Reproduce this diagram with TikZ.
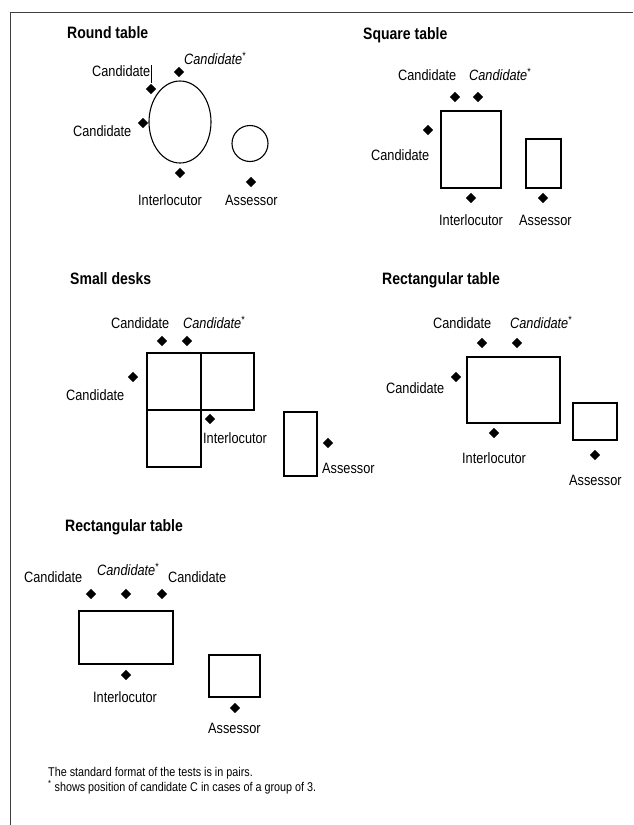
\documentclass[tikz,border=0pt]{standalone}
\usepackage{fontspec}
\setmainfont{Liberation Sans}[FakeStretch=0.85]
\usetikzlibrary{shapes.geometric}
\tikzset{
  seat/.style={diamond, fill=black, inner sep=0pt, minimum size=10.5pt},
  who/.style={anchor=base west, inner sep=0pt, font=\fontsize{15}{18}\selectfont},
  heading/.style={anchor=base west, inner sep=0pt, font=\fontsize{16.5}{19}\selectfont\bfseries},
  note/.style={anchor=base west, inner sep=0pt, align=left, font=\fontsize{12.7}{12.5}\selectfont},
  table/.style={line width=1.1pt},
}
\newcommand{\third}{\textit{Candidate}\textsuperscript{*}}
\begin{document}
\begin{tikzpicture}[x=1pt, y=-1pt]
    \useasboundingbox (0, 0) rectangle (633, 825);
    \draw[line width=0.9pt, black!75] (10, 825) -- (10, 12) -- (633, 12);

    \node[heading] (roundT) at (67, 38) {Round table};
    \draw[table] (180, 122) ellipse [x radius=31, y radius=41];
    \draw[table] (250, 143.5) circle [radius=18];
    \node[seat] (roundA) at (151, 89) {};
    \node[seat] (roundB) at (179, 72) {};
    \node[seat] (roundC) at (143, 123) {};
    \node[seat] (roundI) at (180, 173) {};
    \node[seat] (roundS) at (251, 182) {};
    \node[who] (roundAl) at (92, 76.5) {Candidate};
    \draw[line width=0.8pt] (151, 65) -- (151, 83);
    \node[who] (roundBl) at (184, 64.5) {\third};
    \node[who] (roundCl) at (73, 136.5) {Candidate};
    \node[who] (roundIl) at (138, 205.5) {Interlocutor};
    \node[who] (roundSl) at (225, 205.5) {Assessor};

    \node[heading] (squareT) at (363, 39) {Square table};
    \draw[table] (441, 111) rectangle (501, 188);
    \draw[table] (526, 139) rectangle (561, 188);
    \node[seat] (squareA) at (455, 97) {};
    \node[seat] (squareB) at (478, 97) {};
    \node[seat] (squareC) at (428, 130) {};
    \node[seat] (squareI) at (471, 198) {};
    \node[seat] (squareS) at (543, 198) {};
    \node[who] (squareAl) at (398, 80.5) {Candidate};
    \node[who] (squareBl) at (469, 80.5) {\third};
    \node[who] (squareCl) at (371, 160.5) {Candidate};
    \node[who] (squareIl) at (439, 225.5) {Interlocutor};
    \node[who] (squareSl) at (519, 225.5) {Assessor};

    \node[heading] (desksT) at (70, 284) {Small desks};
    \draw[table] (147, 353) rectangle (201, 410);
    \draw[table] (201, 353) rectangle (254, 410);
    \draw[table] (147, 410) rectangle (201, 467);
    \draw[table] (284, 412) rectangle (317, 476);
    \node[seat] (desksA) at (162, 341) {};
    \node[seat] (desksB) at (187, 341) {};
    \node[seat] (desksC) at (133, 377) {};
    \node[seat] (desksI) at (210, 419) {};
    \node[seat] (desksS) at (328, 443) {};
    \node[who] (desksAl) at (111, 328.5) {Candidate};
    \node[who] (desksBl) at (183, 328.5) {\third};
    \node[who] (desksCl) at (66, 400.5) {Candidate};
    \node[who] (desksIl) at (203, 443.5) {Interlocutor};
    \node[who] (desksSl) at (322, 473.5) {Assessor};

    \node[heading] (rectT) at (382, 284) {Rectangular table};
    \draw[table] (467, 357) rectangle (560, 423);
    \draw[table] (573, 403) rectangle (617, 440);
    \node[seat] (rectA) at (482, 343) {};
    \node[seat] (rectB) at (517, 343) {};
    \node[seat] (rectC) at (456, 377) {};
    \node[seat] (rectI) at (494, 433) {};
    \node[seat] (rectS) at (595, 455) {};
    \node[who] (rectAl) at (433, 328.5) {Candidate};
    \node[who] (rectBl) at (510, 328.5) {\third};
    \node[who] (rectCl) at (386, 393.5) {Candidate};
    \node[who] (rectIl) at (462, 463.5) {Interlocutor};
    \node[who] (rectSl) at (569, 485.5) {Assessor};

    \node[heading] (longT) at (65, 531) {Rectangular table};
    \draw[table] (79, 611) rectangle (173, 664);
    \draw[table] (209, 655) rectangle (260, 697);
    \node[seat] (longA) at (91, 594) {};
    \node[seat] (longB) at (126, 594) {};
    \node[seat] (longC) at (162, 594) {};
    \node[seat] (longI) at (126, 675) {};
    \node[seat] (longS) at (235, 708) {};
    \node[who] (longAl) at (24, 582.5) {Candidate};
    \node[who] (longBl) at (97, 575.5) {\third};
    \node[who] (longCl) at (168, 582.5) {Candidate};
    \node[who] (longIl) at (93, 702.5) {Interlocutor};
    \node[who] (longSl) at (208, 733.5) {Assessor};

    \node[note] (notes) at (48, 791) {The standard format of the tests is in pairs.\\
      \textsuperscript{*} shows position of candidate C in cases of a group of 3.};
  \end{tikzpicture}
\end{document}
